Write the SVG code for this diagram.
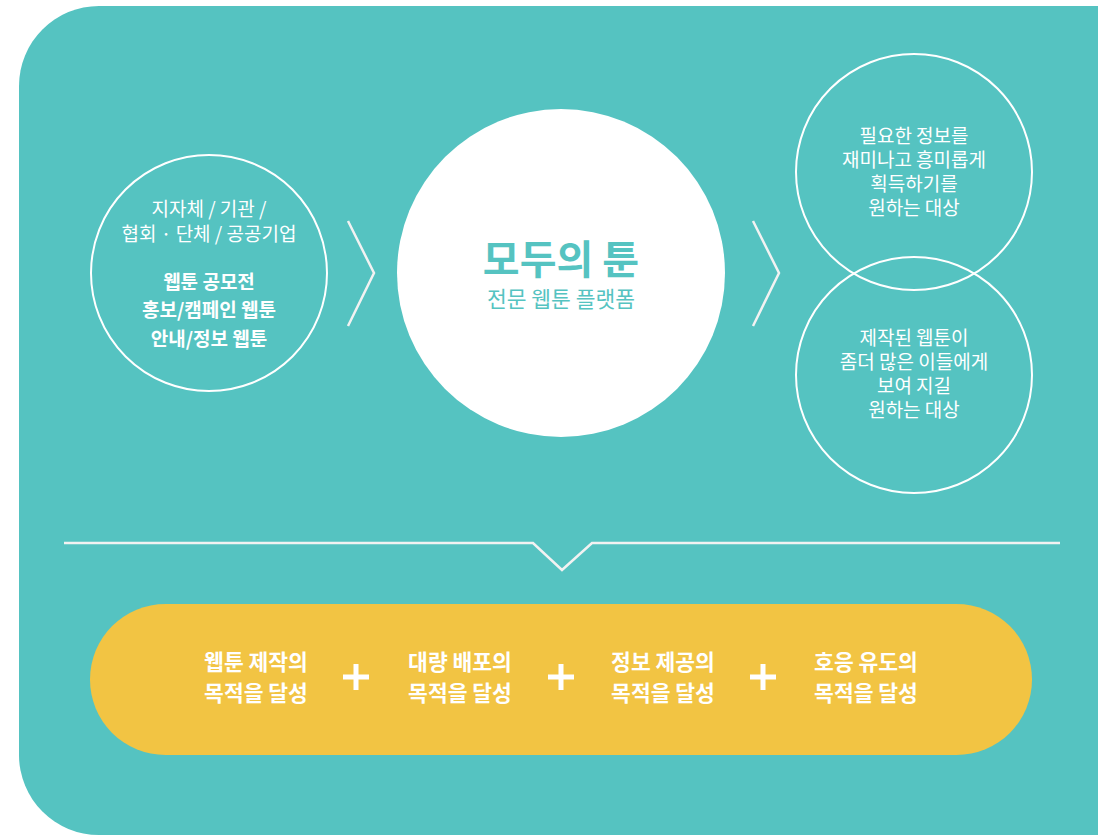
<svg xmlns="http://www.w3.org/2000/svg" width="1098" height="835" viewBox="0 0 1098 835">
<style>
text{font-family:"Noto Sans CJK KR","Noto Sans",sans-serif;text-anchor:middle}
.w{fill:#ffffff;font-size:19px}
.wb{fill:#ffffff;font-size:19px;font-weight:700}
.yb{fill:#ffffff;font-size:21.5px;font-weight:700}
.ring{fill:none;stroke:#ffffff;stroke-width:2}
.ln{fill:none;stroke:#f2f2f2;stroke-width:2.5}
.plus{stroke:#ffffff;stroke-width:5}
</style>
<rect width="1098" height="835" fill="#ffffff"/>
<path d="M99,6 H1098 V835 H99 A80,80 0 0 1 19,755 V86 A80,80 0 0 1 99,6 Z" fill="#55C3C1"/>
<g id="connectors">
<polyline class="ln" points="348,221 374,273 348,326"/>
<polyline class="ln" points="753,221 779,273 753,326"/>
<polyline class="ln" points="64,543 533,543 562,570 592,543 1060,543"/>
</g>
<g id="node-left">
<circle class="ring" cx="209" cy="273" r="118"/>
<text class="w" x="209" y="216">지자체 / 기관 /</text>
<text class="w" x="209" y="241">협회 · 단체 / 공공기업</text>
<text class="wb" x="209" y="289">웹툰 공모전</text>
<text class="wb" x="209" y="317">홍보/캠페인 웹툰</text>
<text class="wb" x="209" y="346">안내/정보 웹툰</text>
</g>
<g id="node-center">
<circle cx="561" cy="273" r="164" fill="#ffffff"/>
<text x="561" y="274" style="fill:#55C3C1;font-size:40px;font-weight:700">모두의 툰</text>
<text x="561" y="307" style="fill:#55C3C1;font-size:21.5px">전문 웹툰 플랫폼</text>
</g>
<g id="node-right-top">
<circle class="ring" cx="914" cy="172" r="118"/>
<text class="w" x="914" y="143">필요한 정보를</text>
<text class="w" x="914" y="167">재미나고 흥미롭게</text>
<text class="w" x="914" y="191">획득하기를</text>
<text class="w" x="914" y="215">원하는 대상</text>
</g>
<g id="node-right-bottom">
<circle class="ring" cx="914" cy="375" r="118"/>
<text class="w" x="914" y="345">제작된 웹툰이</text>
<text class="w" x="914" y="369">좀더 많은 이들에게</text>
<text class="w" x="914" y="393">보여 지길</text>
<text class="w" x="914" y="417">원하는 대상</text>
</g>
<g id="node-goals">
<rect x="90" y="604" width="942" height="151" rx="75.5" fill="#F2C443"/>
<text class="yb" x="256" y="670">웹툰 제작의</text>
<text class="yb" x="256" y="701">목적을 달성</text>
<text class="yb" x="460" y="670">대량 배포의</text>
<text class="yb" x="460" y="701">목적을 달성</text>
<text class="yb" x="663" y="670">정보 제공의</text>
<text class="yb" x="663" y="701">목적을 달성</text>
<text class="yb" x="866" y="670">호응 유도의</text>
<text class="yb" x="866" y="701">목적을 달성</text>
<path class="plus" d="M343,677 H369 M356,664 V690 M548,677 H574 M561,664 V690 M750,677 H776 M763,664 V690"/>
</g>
</svg>
